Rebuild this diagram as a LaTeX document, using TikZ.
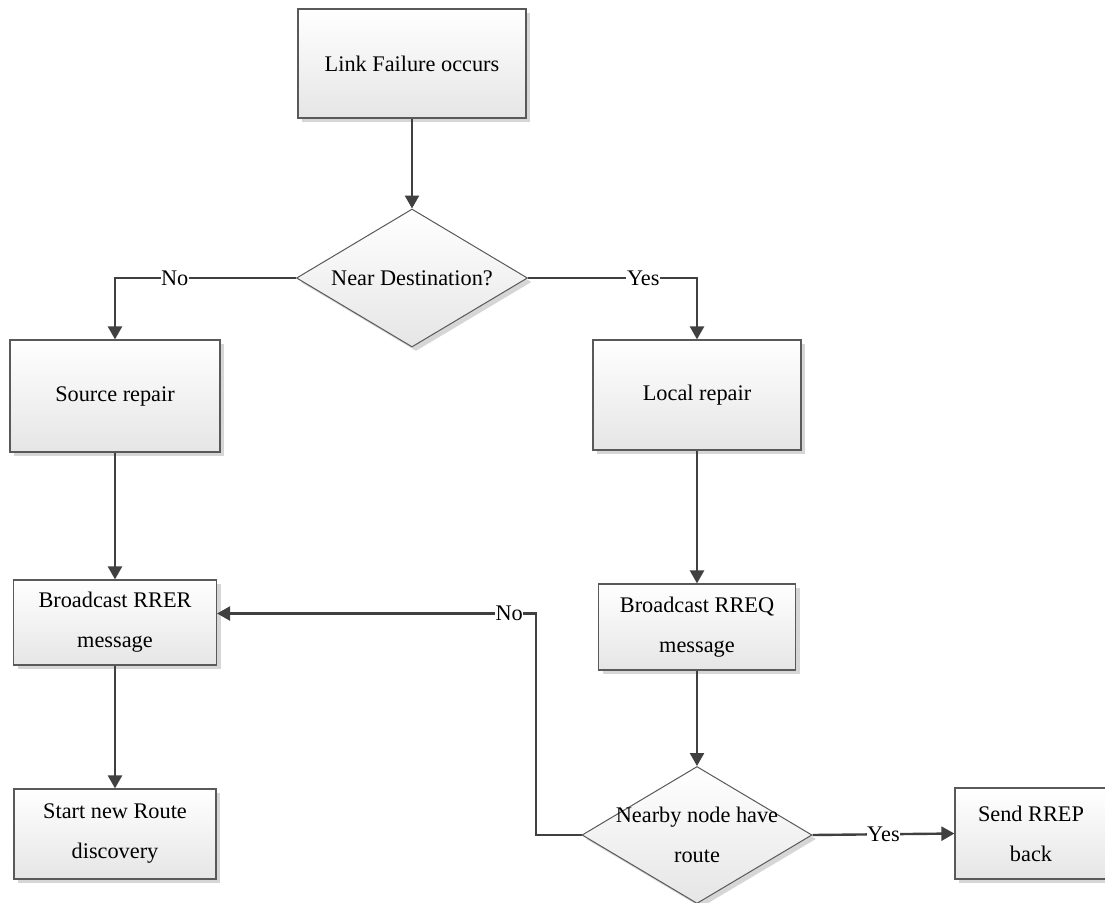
\documentclass[tikz,border=0pt]{standalone}
\usepackage{fontspec}
\setmainfont{Liberation Serif}
\usetikzlibrary{shapes.geometric,arrows.meta,shadows}
\definecolor{linegray}{HTML}{404040}
\definecolor{edgegray}{HTML}{595959}
\definecolor{shadowgray}{HTML}{D6D6D6}
\begin{document}
\begin{tikzpicture}[x=1pt,y=-1pt,
  every node/.style={font=\fontsize{22.3}{40}\selectfont},
  softshadow/.style={drop shadow={shadow xshift=4pt,shadow yshift=-4pt,fill=shadowgray,opacity=1}},
  procbox/.style={rectangle,draw=edgegray,line width=1.2pt,top color=white,bottom color=black!10,
    softshadow,align=center,inner sep=0pt},
  decision/.style={diamond,draw=edgegray,line width=1pt,top color=white,bottom color=black!10,
    softshadow,inner sep=0pt},
  flow/.style={draw=linegray,line width=2.4pt,-{Triangle[length=13pt,width=14pt]}},
  lbl/.style={fill=white,inner sep=0.6pt}
]
\path[use as bounding box,clip] (0,0) rectangle (1105,902);
\fill[white] (0,0) rectangle (1105,902);

% process boxes
\node[procbox,minimum width=228pt,minimum height=109pt] (fail)  at (412,63.5) {Link Failure occurs};
\node[procbox,minimum width=210pt,minimum height=112pt] (src)   at (115,396)  {Source repair};
\node[procbox,minimum width=208pt,minimum height=110pt] (loc)   at (697,395)  {Local repair};
\node[procbox,minimum width=203pt,minimum height=85pt]  (rrer)  at (115,622.5) {Broadcast RRER\\message};
\node[procbox,minimum width=197pt,minimum height=86pt]  (rreq)  at (697,627)  {Broadcast RREQ\\message};
\node[procbox,minimum width=202pt,minimum height=90pt]  (start) at (115,834)  {Start new Route\\discovery};
\node[procbox,minimum width=152pt,minimum height=91pt]  (rrep)  at (1031,833.5) {Send RREP\\back};

% decisions
\node[decision,minimum width=231pt,minimum height=138pt] (d1) at (412,278) {};
\node (d1t) at (d1) {Near Destination?};
\node[decision,minimum width=230pt,minimum height=137pt] (d2) at (697,835) {};
\node[align=center] (d2t) at (d2) {Nearby node have\\route};

% connectors
\draw[flow] (fail.south) -- (d1.north);
\draw[flow] (d1.west) -| node[lbl,pos=0.335] {No} (src.north);
\draw[flow] (d1.east) -| node[lbl,pos=0.341] {Yes} (loc.north);
\draw[flow] (src.south) -- (rrer.north);
\draw[flow] (rrer.south) -- (start.north);
\draw[flow] (loc.south) -- (rreq.north);
\draw[flow] (rreq.south) -- (d2.north);
\draw[flow] (d2.east) -- node[lbl] {Yes} (rrep.west);
\coordinate (nobend) at (536,835);
\draw[flow] (d2.west) -- (nobend) |- node[lbl,pos=0.542] {No} ([yshift=9pt]rrer.east);
\end{tikzpicture}
\end{document}
